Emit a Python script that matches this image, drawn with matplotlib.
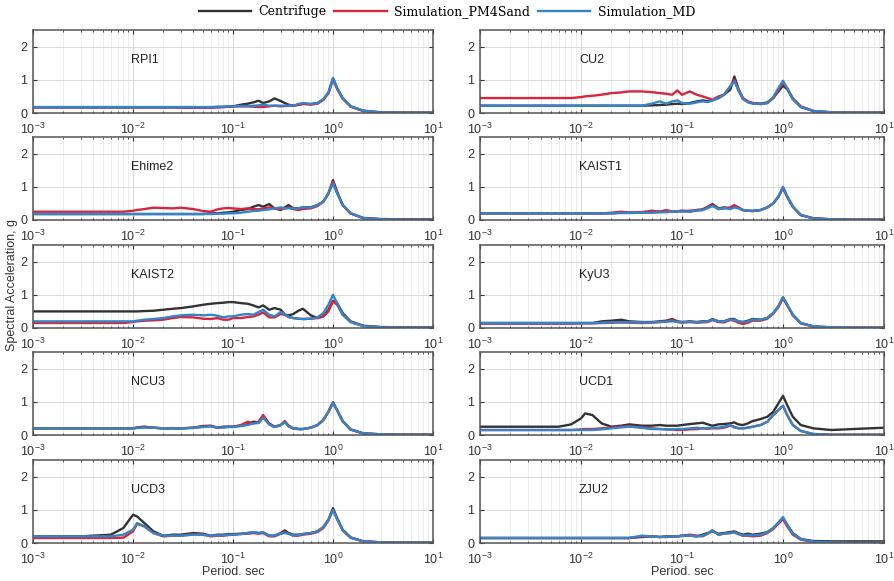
import matplotlib
matplotlib.use("Agg")
import matplotlib.pyplot as plt
from matplotlib.lines import Line2D

plt.rcParams['font.family'] = ['Liberation Sans', 'DejaVu Sans']
plt.rcParams['mathtext.default'] = 'regular'

period = [0.001, 0.003, 0.006, 0.008, 0.01, 0.011, 0.013, 0.016, 0.02, 0.025,
          0.03, 0.04, 0.05, 0.06, 0.07, 0.08, 0.09, 0.1, 0.12, 0.14,
          0.16, 0.18, 0.2, 0.23, 0.26, 0.3, 0.33, 0.36, 0.4, 0.45,
          0.5, 0.6, 0.7, 0.8, 0.9, 1.0, 1.1, 1.25, 1.5, 2.0,
          3.0, 5.0, 10.0]

panels = ["RPI1", "CU2", "Ehime2", "KAIST1", "KAIST2",
          "KyU3", "NCU3", "UCD1", "UCD3", "ZJU2"]

# spectral acceleration (g), one list per panel and series
centrifuge = {
    "RPI1": [0.17, 0.17, 0.17, 0.17, 0.17, 0.17, 0.17, 0.17, 0.17, 0.17,
             0.17, 0.17, 0.17, 0.17, 0.18, 0.18, 0.19, 0.2, 0.25, 0.28,
             0.32, 0.37, 0.3, 0.35, 0.44, 0.36, 0.3, 0.25, 0.22, 0.25,
             0.28, 0.27, 0.3, 0.4, 0.6, 1.05, 0.75, 0.45, 0.2, 0.07,
             0.02, 0.01, 0.01],
    "CU2": [0.22, 0.22, 0.22, 0.22, 0.22, 0.22, 0.22, 0.22, 0.22, 0.22,
            0.22, 0.22, 0.23, 0.24, 0.25, 0.27, 0.28, 0.27, 0.3, 0.35,
            0.38, 0.36, 0.38, 0.45, 0.55, 0.7, 1.1, 0.75, 0.45, 0.33,
            0.3, 0.28, 0.32, 0.45, 0.65, 0.82, 0.72, 0.42, 0.18, 0.06,
            0.02, 0.01, 0.01],
    "Ehime2": [0.18, 0.18, 0.18, 0.18, 0.18, 0.18, 0.18, 0.18, 0.18, 0.18,
               0.18, 0.18, 0.18, 0.2, 0.2, 0.22, 0.23, 0.25, 0.3, 0.33,
               0.4, 0.45, 0.4, 0.48, 0.35, 0.3, 0.38, 0.45, 0.35, 0.35,
               0.38, 0.38, 0.45, 0.55, 0.8, 1.2, 0.85, 0.45, 0.2, 0.06,
               0.03, 0.02, 0.02],
    "KAIST1": [0.2, 0.2, 0.2, 0.2, 0.2, 0.2, 0.2, 0.2, 0.2, 0.22,
               0.22, 0.22, 0.23, 0.25, 0.24, 0.25, 0.26, 0.28, 0.25, 0.3,
               0.32, 0.4, 0.48, 0.35, 0.38, 0.35, 0.42, 0.38, 0.3, 0.28,
               0.27, 0.3, 0.38, 0.5, 0.7, 0.98, 0.7, 0.4, 0.15, 0.05,
               0.02, 0.01, 0.01],
    "KAIST2": [0.5, 0.5, 0.5, 0.5, 0.5, 0.5, 0.51, 0.52, 0.55, 0.58,
               0.6, 0.65, 0.7, 0.73, 0.75, 0.76, 0.78, 0.78, 0.75, 0.73,
               0.68, 0.62, 0.68, 0.55, 0.6, 0.55, 0.4, 0.38, 0.42, 0.52,
               0.58, 0.38, 0.3, 0.35, 0.55, 0.82, 0.75, 0.45, 0.2, 0.07,
               0.03, 0.02, 0.02],
    "KyU3": [0.15, 0.15, 0.15, 0.15, 0.15, 0.15, 0.15, 0.2, 0.22, 0.25,
             0.2, 0.18, 0.18, 0.2, 0.22, 0.27, 0.2, 0.18, 0.2, 0.18,
             0.2, 0.2, 0.27, 0.2, 0.2, 0.27, 0.27, 0.2, 0.18, 0.22,
             0.27, 0.25, 0.3, 0.45, 0.65, 0.92, 0.7, 0.4, 0.15, 0.05,
             0.02, 0.01, 0.01],
    "NCU3": [0.2, 0.2, 0.2, 0.2, 0.2, 0.23, 0.25, 0.22, 0.2, 0.2,
             0.2, 0.22, 0.27, 0.28, 0.22, 0.25, 0.25, 0.25, 0.28, 0.32,
             0.4, 0.38, 0.58, 0.35, 0.25, 0.3, 0.4, 0.28, 0.2, 0.18,
             0.18, 0.22, 0.3, 0.45, 0.7, 0.98, 0.75, 0.42, 0.17, 0.05,
             0.02, 0.01, 0.01],
    "UCD1": [0.25, 0.25, 0.25, 0.32, 0.5, 0.65, 0.6, 0.35, 0.25, 0.28,
             0.32, 0.28, 0.28, 0.3, 0.28, 0.28, 0.28, 0.3, 0.33, 0.35,
             0.37, 0.32, 0.28, 0.32, 0.33, 0.35, 0.38, 0.32, 0.3, 0.35,
             0.42, 0.48, 0.55, 0.7, 0.95, 1.18, 0.9, 0.55, 0.3, 0.2,
             0.15, 0.18, 0.22],
    "UCD3": [0.2, 0.2, 0.25, 0.45, 0.85, 0.8, 0.6, 0.35, 0.22, 0.25,
             0.25, 0.3, 0.28, 0.22, 0.25, 0.25, 0.27, 0.27, 0.28, 0.3,
             0.32, 0.3, 0.32, 0.22, 0.22, 0.3, 0.38, 0.3, 0.25, 0.25,
             0.27, 0.3, 0.35, 0.48, 0.7, 1.05, 0.75, 0.4, 0.17, 0.05,
             0.02, 0.01, 0.01],
    "ZJU2": [0.15, 0.15, 0.15, 0.15, 0.15, 0.15, 0.15, 0.15, 0.15, 0.15,
             0.15, 0.18, 0.2, 0.18, 0.2, 0.2, 0.2, 0.22, 0.22, 0.2,
             0.25, 0.3, 0.35, 0.28, 0.3, 0.33, 0.35, 0.3, 0.25, 0.28,
             0.25, 0.28, 0.33, 0.45, 0.6, 0.75, 0.55, 0.3, 0.12, 0.06,
             0.05, 0.05, 0.05],
}

pm4sand = {
    "RPI1": [0.17, 0.17, 0.17, 0.17, 0.17, 0.17, 0.17, 0.17, 0.17, 0.17,
             0.16, 0.16, 0.16, 0.16, 0.17, 0.18, 0.19, 0.2, 0.2, 0.2,
             0.19, 0.18, 0.18, 0.2, 0.22, 0.2, 0.21, 0.22, 0.22, 0.24,
             0.27, 0.25, 0.28, 0.4, 0.6, 1.0, 0.72, 0.43, 0.19, 0.06,
             0.02, 0.01, 0.01],
    "CU2": [0.45, 0.45, 0.45, 0.45, 0.48, 0.5, 0.52, 0.55, 0.6, 0.62,
            0.65, 0.65, 0.63, 0.6, 0.58, 0.55, 0.68, 0.55, 0.65, 0.55,
            0.5, 0.45, 0.4, 0.5, 0.55, 0.8, 1.0, 0.7, 0.45, 0.35,
            0.3, 0.27, 0.3, 0.45, 0.7, 0.9, 0.75, 0.45, 0.2, 0.06,
            0.02, 0.01, 0.01],
    "Ehime2": [0.25, 0.25, 0.25, 0.25, 0.28, 0.3, 0.33, 0.37, 0.36, 0.35,
               0.37, 0.33, 0.27, 0.25, 0.32, 0.35, 0.36, 0.35, 0.33, 0.35,
               0.33, 0.32, 0.35, 0.38, 0.35, 0.33, 0.35, 0.38, 0.33, 0.3,
               0.33, 0.35, 0.42, 0.55, 0.8, 1.15, 0.82, 0.45, 0.2, 0.06,
               0.02, 0.01, 0.01],
    "KAIST1": [0.2, 0.2, 0.2, 0.2, 0.2, 0.2, 0.2, 0.2, 0.22, 0.25,
               0.22, 0.24, 0.28, 0.25, 0.3, 0.25, 0.26, 0.27, 0.28, 0.3,
               0.3, 0.38, 0.45, 0.33, 0.35, 0.38, 0.45, 0.38, 0.3, 0.28,
               0.27, 0.3, 0.38, 0.5, 0.7, 0.97, 0.7, 0.4, 0.15, 0.05,
               0.02, 0.01, 0.01],
    "KAIST2": [0.15, 0.15, 0.15, 0.15, 0.18, 0.2, 0.22, 0.23, 0.25, 0.3,
               0.33, 0.32, 0.28, 0.27, 0.3, 0.25, 0.25, 0.3, 0.3, 0.33,
               0.35, 0.4, 0.47, 0.32, 0.32, 0.42, 0.4, 0.33, 0.3, 0.28,
               0.27, 0.28, 0.3, 0.35, 0.5, 0.8, 0.7, 0.4, 0.18, 0.06,
               0.02, 0.01, 0.01],
    "KyU3": [0.13, 0.13, 0.13, 0.13, 0.14, 0.14, 0.14, 0.15, 0.16, 0.17,
             0.16, 0.15, 0.16, 0.18, 0.2, 0.24, 0.18, 0.16, 0.18, 0.16,
             0.17, 0.18, 0.24, 0.18, 0.17, 0.24, 0.22, 0.16, 0.12, 0.16,
             0.22, 0.22, 0.28, 0.43, 0.63, 0.9, 0.68, 0.38, 0.14, 0.04,
             0.01, 0.01, 0.01],
    "NCU3": [0.2, 0.2, 0.2, 0.2, 0.2, 0.22, 0.24, 0.22, 0.2, 0.21,
             0.2, 0.22, 0.25, 0.27, 0.22, 0.23, 0.25, 0.25, 0.3, 0.4,
             0.35, 0.4, 0.6, 0.32, 0.24, 0.3, 0.42, 0.26, 0.2, 0.18,
             0.18, 0.22, 0.3, 0.45, 0.7, 0.97, 0.74, 0.41, 0.16, 0.05,
             0.02, 0.01, 0.01],
    "UCD1": [0.15, 0.15, 0.15, 0.15, 0.17, 0.18, 0.18, 0.2, 0.22, 0.25,
             0.27, 0.22, 0.2, 0.18, 0.17, 0.16, 0.15, 0.15, 0.17, 0.18,
             0.2, 0.19, 0.2, 0.2, 0.22, 0.28, 0.25, 0.2, 0.2, 0.22,
             0.25, 0.3, 0.4, 0.6, 0.75, 0.88, 0.6, 0.3, 0.12, 0.03,
             0.01, 0.01, 0.01],
    "UCD3": [0.15, 0.15, 0.15, 0.16, 0.35, 0.58, 0.5, 0.3, 0.2, 0.22,
             0.22, 0.26, 0.25, 0.2, 0.22, 0.22, 0.24, 0.25, 0.27, 0.28,
             0.3, 0.28, 0.3, 0.2, 0.2, 0.28, 0.33, 0.28, 0.22, 0.22,
             0.25, 0.28, 0.33, 0.45, 0.68, 1.0, 0.72, 0.38, 0.16, 0.05,
             0.02, 0.01, 0.01],
    "ZJU2": [0.15, 0.15, 0.15, 0.15, 0.15, 0.15, 0.15, 0.15, 0.15, 0.15,
             0.15, 0.2, 0.2, 0.18, 0.18, 0.19, 0.2, 0.22, 0.25, 0.22,
             0.2, 0.28, 0.38, 0.25, 0.28, 0.3, 0.32, 0.28, 0.22, 0.22,
             0.2, 0.22, 0.3, 0.42, 0.58, 0.72, 0.5, 0.25, 0.1, 0.03,
             0.01, 0.01, 0.01],
}

md = {
    "RPI1": [0.18, 0.18, 0.18, 0.18, 0.18, 0.18, 0.18, 0.18, 0.18, 0.18,
             0.18, 0.18, 0.18, 0.18, 0.19, 0.19, 0.2, 0.2, 0.21, 0.21,
             0.22, 0.23, 0.25, 0.22, 0.22, 0.22, 0.22, 0.22, 0.22, 0.27,
             0.3, 0.27, 0.3, 0.42, 0.62, 1.05, 0.75, 0.45, 0.2, 0.07,
             0.02, 0.01, 0.01],
    "CU2": [0.22, 0.22, 0.22, 0.22, 0.22, 0.22, 0.22, 0.22, 0.22, 0.22,
            0.22, 0.22, 0.28, 0.35, 0.28, 0.35, 0.38, 0.3, 0.28, 0.32,
            0.35, 0.33, 0.38, 0.45, 0.55, 0.8, 0.95, 0.7, 0.42, 0.32,
            0.28, 0.27, 0.3, 0.48, 0.75, 0.97, 0.75, 0.42, 0.18, 0.06,
            0.02, 0.01, 0.01],
    "Ehime2": [0.18, 0.18, 0.18, 0.18, 0.18, 0.18, 0.18, 0.18, 0.18, 0.18,
               0.18, 0.18, 0.18, 0.18, 0.19, 0.19, 0.2, 0.2, 0.22, 0.25,
               0.27, 0.28, 0.3, 0.32, 0.35, 0.38, 0.35, 0.35, 0.35, 0.35,
               0.38, 0.37, 0.45, 0.55, 0.8, 1.1, 0.8, 0.45, 0.2, 0.06,
               0.02, 0.01, 0.01],
    "KAIST1": [0.2, 0.2, 0.2, 0.2, 0.2, 0.2, 0.2, 0.2, 0.2, 0.21,
               0.21, 0.22, 0.22, 0.23, 0.24, 0.25, 0.27, 0.25, 0.26, 0.28,
               0.3, 0.36, 0.42, 0.33, 0.36, 0.33, 0.38, 0.35, 0.3, 0.28,
               0.28, 0.3, 0.38, 0.5, 0.7, 1.0, 0.72, 0.4, 0.15, 0.05,
               0.02, 0.01, 0.01],
    "KAIST2": [0.2, 0.2, 0.2, 0.2, 0.2, 0.22, 0.25, 0.27, 0.3, 0.35,
               0.38, 0.4, 0.38, 0.4, 0.37, 0.32, 0.35, 0.35, 0.4, 0.42,
               0.4, 0.48, 0.55, 0.4, 0.35, 0.48, 0.42, 0.33, 0.3, 0.28,
               0.27, 0.28, 0.32, 0.45, 0.7, 1.0, 0.75, 0.4, 0.18, 0.06,
               0.02, 0.01, 0.01],
    "KyU3": [0.15, 0.15, 0.15, 0.15, 0.15, 0.15, 0.15, 0.16, 0.17, 0.17,
             0.17, 0.17, 0.17, 0.18, 0.19, 0.2, 0.19, 0.18, 0.18, 0.18,
             0.18, 0.2, 0.25, 0.2, 0.2, 0.25, 0.25, 0.2, 0.18, 0.2,
             0.25, 0.25, 0.3, 0.45, 0.65, 0.93, 0.7, 0.4, 0.15, 0.05,
             0.02, 0.01, 0.01],
    "NCU3": [0.2, 0.2, 0.2, 0.2, 0.2, 0.21, 0.22, 0.22, 0.2, 0.2,
             0.2, 0.21, 0.24, 0.26, 0.22, 0.23, 0.24, 0.24, 0.27, 0.3,
             0.35, 0.36, 0.52, 0.32, 0.24, 0.3, 0.38, 0.26, 0.2, 0.18,
             0.18, 0.22, 0.3, 0.46, 0.7, 0.98, 0.75, 0.42, 0.17, 0.05,
             0.02, 0.01, 0.01],
    "UCD1": [0.15, 0.15, 0.15, 0.15, 0.15, 0.15, 0.15, 0.17, 0.2, 0.23,
             0.25, 0.22, 0.18, 0.18, 0.17, 0.17, 0.18, 0.18, 0.2, 0.22,
             0.2, 0.21, 0.22, 0.22, 0.25, 0.3, 0.22, 0.21, 0.2, 0.22,
             0.25, 0.3, 0.4, 0.6, 0.75, 0.88, 0.6, 0.3, 0.12, 0.03,
             0.01, 0.01, 0.01],
    "UCD3": [0.2, 0.2, 0.2, 0.25, 0.4, 0.6, 0.5, 0.3, 0.22, 0.22,
             0.22, 0.25, 0.25, 0.22, 0.23, 0.23, 0.25, 0.25, 0.27, 0.3,
             0.33, 0.3, 0.32, 0.22, 0.22, 0.28, 0.3, 0.28, 0.23, 0.24,
             0.27, 0.3, 0.35, 0.48, 0.7, 1.0, 0.72, 0.38, 0.16, 0.05,
             0.02, 0.01, 0.01],
    "ZJU2": [0.15, 0.15, 0.15, 0.15, 0.15, 0.15, 0.15, 0.15, 0.15, 0.15,
             0.15, 0.22, 0.2, 0.18, 0.19, 0.2, 0.2, 0.21, 0.22, 0.2,
             0.22, 0.28, 0.38, 0.25, 0.28, 0.3, 0.32, 0.27, 0.22, 0.24,
             0.23, 0.25, 0.32, 0.45, 0.62, 0.78, 0.55, 0.28, 0.11, 0.04,
             0.02, 0.01, 0.01],
}

c_black = '#333333'
c_red = '#d7263a'
c_blue = '#3384c9'

fig = plt.figure(figsize=(8.94, 5.81), dpi=100)

col_x = [33 / 894, 480 / 894]
col_w = [400 / 894, 404 / 894]
row_top = [30, 137, 245, 352, 460]
h = 83 / 581

for i, name in enumerate(panels):
    r, c = i // 2, i % 2
    bottom = 1 - (row_top[r] + 83) / 581
    ax = fig.add_axes([col_x[c], bottom, col_w[c], h])
    ax.plot(period, centrifuge[name], color=c_black, lw=1.7)
    ax.plot(period, pm4sand[name], color=c_red, lw=1.7)
    ax.plot(period, md[name], color=c_blue, lw=1.7)
    ax.set_xscale('log')
    ax.set_xlim(1e-3, 1e1)
    ax.set_ylim(0, 2.5)
    ax.set_yticks([0, 1, 2])
    ax.grid(True, which='major', color='#d5d5d5', lw=0.6)
    ax.grid(True, which='minor', axis='x', color='#e4e4e4', lw=0.5)
    ax.set_axisbelow(True)
    ax.tick_params(which='both', direction='in', top=True, right=True,
                   labelsize=9, colors='#333333')
    ax.tick_params(axis='x', which='major', pad=6)
    ax.tick_params(axis='y', which='major', pad=4)
    ax.tick_params(which='major', length=3)
    ax.tick_params(which='minor', length=1.5)
    for s in ax.spines.values():
        s.set_color('#555555')
        s.set_linewidth(1.1)
    ax.text(0.245, 0.64, name, transform=ax.transAxes, fontsize=9,
            color='#222222', ha='left', va='center')

fig.text(12 / 894, 0.509, 'Spectral Acceleration, g', rotation=90,
         ha='center', va='center', fontsize=9, color='#333333')
fig.text(233 / 894, 0.016, 'Period. sec', ha='center', va='center',
         fontsize=9, color='#333333')
fig.text(682 / 894, 0.016, 'Period. sec', ha='center', va='center',
         fontsize=9, color='#333333')

handles = [Line2D([], [], color=c_black, lw=1.7),
           Line2D([], [], color=c_red, lw=1.7),
           Line2D([], [], color=c_blue, lw=1.7)]
fig.legend(handles, ['Centrifuge', 'Simulation_PM4Sand', 'Simulation_MD'],
           loc='upper center', bbox_to_anchor=(0.5, 1.01), ncol=3,
           frameon=False, handlelength=4.2, columnspacing=0.6,
           handletextpad=0.6, prop={'family': 'DejaVu Serif', 'size': 9})

fig.savefig('out.png', dpi=100)
